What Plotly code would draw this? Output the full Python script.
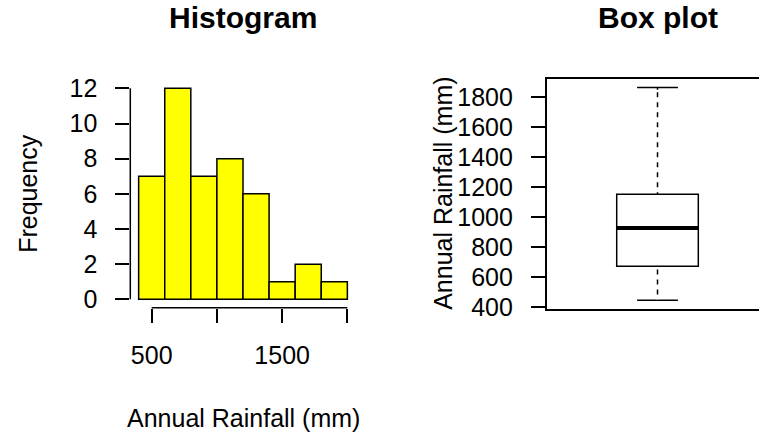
import plotly.graph_objects as go

W, H = 759, 436
FONT = "Liberation Sans, Arial, sans-serif"

# ---- data ----
bin_edges = [400, 600, 800, 1000, 1200, 1400, 1600, 1800, 2000]
counts = [7, 12, 7, 8, 6, 1, 2, 1]
hist_xticks = [500, 1000, 1500, 2000]
hist_xticklabels = ["500", "", "1500", ""]
hist_yticks = [0, 2, 4, 6, 8, 10, 12]

box_min = 447
box_q1 = 673
box_median = 929
box_q3 = 1153
box_max = 1866
box_yticks = [400, 600, 800, 1000, 1200, 1400, 1600, 1800]

titles = ["Histogram", "Box plot"]
xlab = "Annual Rainfall (mm)"
ylab_hist = "Frequency"
ylab_box = "Annual Rainfall (mm)"

# ---- derived ----
centers = [(a + b) / 2 for a, b in zip(bin_edges[:-1], bin_edges[1:])]
widths = [b - a for a, b in zip(bin_edges[:-1], bin_edges[1:])]
span = bin_edges[-1] - bin_edges[0]
hx_range = [bin_edges[0] - 0.04 * span, bin_edges[-1] + 0.04 * span]
hy_range = [0 - 0.04 * max(hist_yticks), max(hist_yticks) * 1.04]
bspan = box_max - box_min
by_range = [box_min - 0.04 * bspan, box_max + 0.04 * bspan]

box_pos = 1
box_w = 0.8

def px(x):
    return x / W

def py(y):
    return 1 - y / H

fig = go.Figure()

fig.add_trace(go.Bar(
    x=centers, y=counts, width=widths,
    marker=dict(color="#FFFF00", line=dict(color="black", width=1.5)),
    xaxis="x", yaxis="y", showlegend=False, hoverinfo="x+y",
))

fig.add_trace(go.Box(
    x=[box_pos], q1=[box_q1], median=[box_median], q3=[box_q3],
    lowerfence=[box_min], upperfence=[box_max],
    width=box_w, whiskerwidth=0.5,
    fillcolor="white", line=dict(color="black", width=1.5),
    xaxis="x2", yaxis="y2", showlegend=False, boxpoints=False,
))
# dashed whiskers (white dashes over the solid whisker)
for lo, hi in ([box_q3, box_max], [box_min, box_q1]):
    fig.add_trace(go.Scatter(
        x=[box_pos, box_pos], y=[lo + (hi - lo) * 0.02, hi - (hi - lo) * 0.02],
        mode="lines", line=dict(color="white", width=3, dash="5px,5px"),
        xaxis="x2", yaxis="y2", showlegend=False, hoverinfo="skip",
    ))
# thick median
fig.add_trace(go.Scatter(
    x=[box_pos - box_w / 2, box_pos + box_w / 2], y=[box_median, box_median],
    mode="lines", line=dict(color="black", width=4),
    xaxis="x2", yaxis="y2", showlegend=False, hoverinfo="skip",
))

tickfont = dict(family=FONT, size=25, color="black")
labfont = dict(family=FONT, size=25, color="black")

hx_dom = [px(130.3), px(355.7)]
hy_dom = [py(307.8), py(79.9)]
bx_dom = [px(546.7), 1.0]
by_dom = [py(308.7), py(79.0)]

fig.update_layout(
    width=W, height=H,
    margin=dict(l=0, r=0, t=0, b=0, pad=0, autoexpand=False),
    paper_bgcolor="white", plot_bgcolor="white",
    showlegend=False,
    xaxis=dict(domain=hx_dom, range=hx_range, anchor="y", automargin=False,
               showgrid=False, zeroline=False, showline=False,
               ticks="outside", ticklen=14, tickwidth=1.5, tickcolor="black",
               tickvals=hist_xticks, ticktext=hist_xticklabels,
               tickfont=tickfont, ticklabelstandoff=11),
    yaxis=dict(domain=hy_dom, range=hy_range, anchor="x", automargin=False,
               showgrid=False, zeroline=False, showline=False,
               ticks="outside", ticklen=14, tickwidth=1.5, tickcolor="black",
               tickvals=hist_yticks, tickfont=tickfont, ticklabelstandoff=13),
    xaxis2=dict(domain=bx_dom, range=[box_pos - 1.0863, box_pos + 0.995], anchor="y2",
                automargin=False,
                showgrid=False, zeroline=False, showline=True, mirror=True,
                linecolor="black", linewidth=1.5,
                ticks="", showticklabels=False),
    yaxis2=dict(domain=by_dom, range=by_range, anchor="x2", automargin=False,
                showgrid=False, zeroline=False, showline=True, mirror=False,
                linecolor="black", linewidth=1.5,
                ticks="outside", ticklen=14, tickwidth=1.5, tickcolor="black",
                tickvals=box_yticks, tickfont=tickfont, ticklabelstandoff=13),
)

# axis lines spanning first to last tick (R style)
fig.add_shape(type="line", xref="x", yref="paper",
              x0=hist_xticks[0], x1=hist_xticks[-1], y0=hy_dom[0], y1=hy_dom[0],
              line=dict(color="black", width=1.5))
fig.add_shape(type="line", xref="paper", yref="y",
              x0=hx_dom[0], x1=hx_dom[0], y0=hist_yticks[0], y1=hist_yticks[-1],
              line=dict(color="black", width=1.5))

# axis titles
fig.add_annotation(text=xlab, x=(hx_dom[0] + hx_dom[1]) / 2, y=py(418),
                   xref="paper", yref="paper", xanchor="center", yanchor="middle",
                   showarrow=False, font=labfont)
fig.add_annotation(text=ylab_hist, x=px(28), y=(hy_dom[0] + hy_dom[1]) / 2,
                   xref="paper", yref="paper", xanchor="center", yanchor="middle",
                   textangle=-90, showarrow=False, font=labfont)
fig.add_annotation(text=ylab_box, x=px(443), y=(by_dom[0] + by_dom[1]) / 2,
                   xref="paper", yref="paper", xanchor="center", yanchor="middle",
                   textangle=-90, showarrow=False, font=labfont)

# panel titles
for t, xc in zip(titles, [(hx_dom[0] + hx_dom[1]) / 2, px(657.5)]):
    fig.add_annotation(text=t, x=xc, y=py(17), xref="paper", yref="paper",
                       xanchor="center", yanchor="middle", showarrow=False,
                       font=dict(family=FONT, size=30, color="black", weight="bold"))

fig.write_html("out.html",
               config={"displayModeBar": False},
               post_script="document.body.style.margin='0';document.body.style.overflow='hidden';")
